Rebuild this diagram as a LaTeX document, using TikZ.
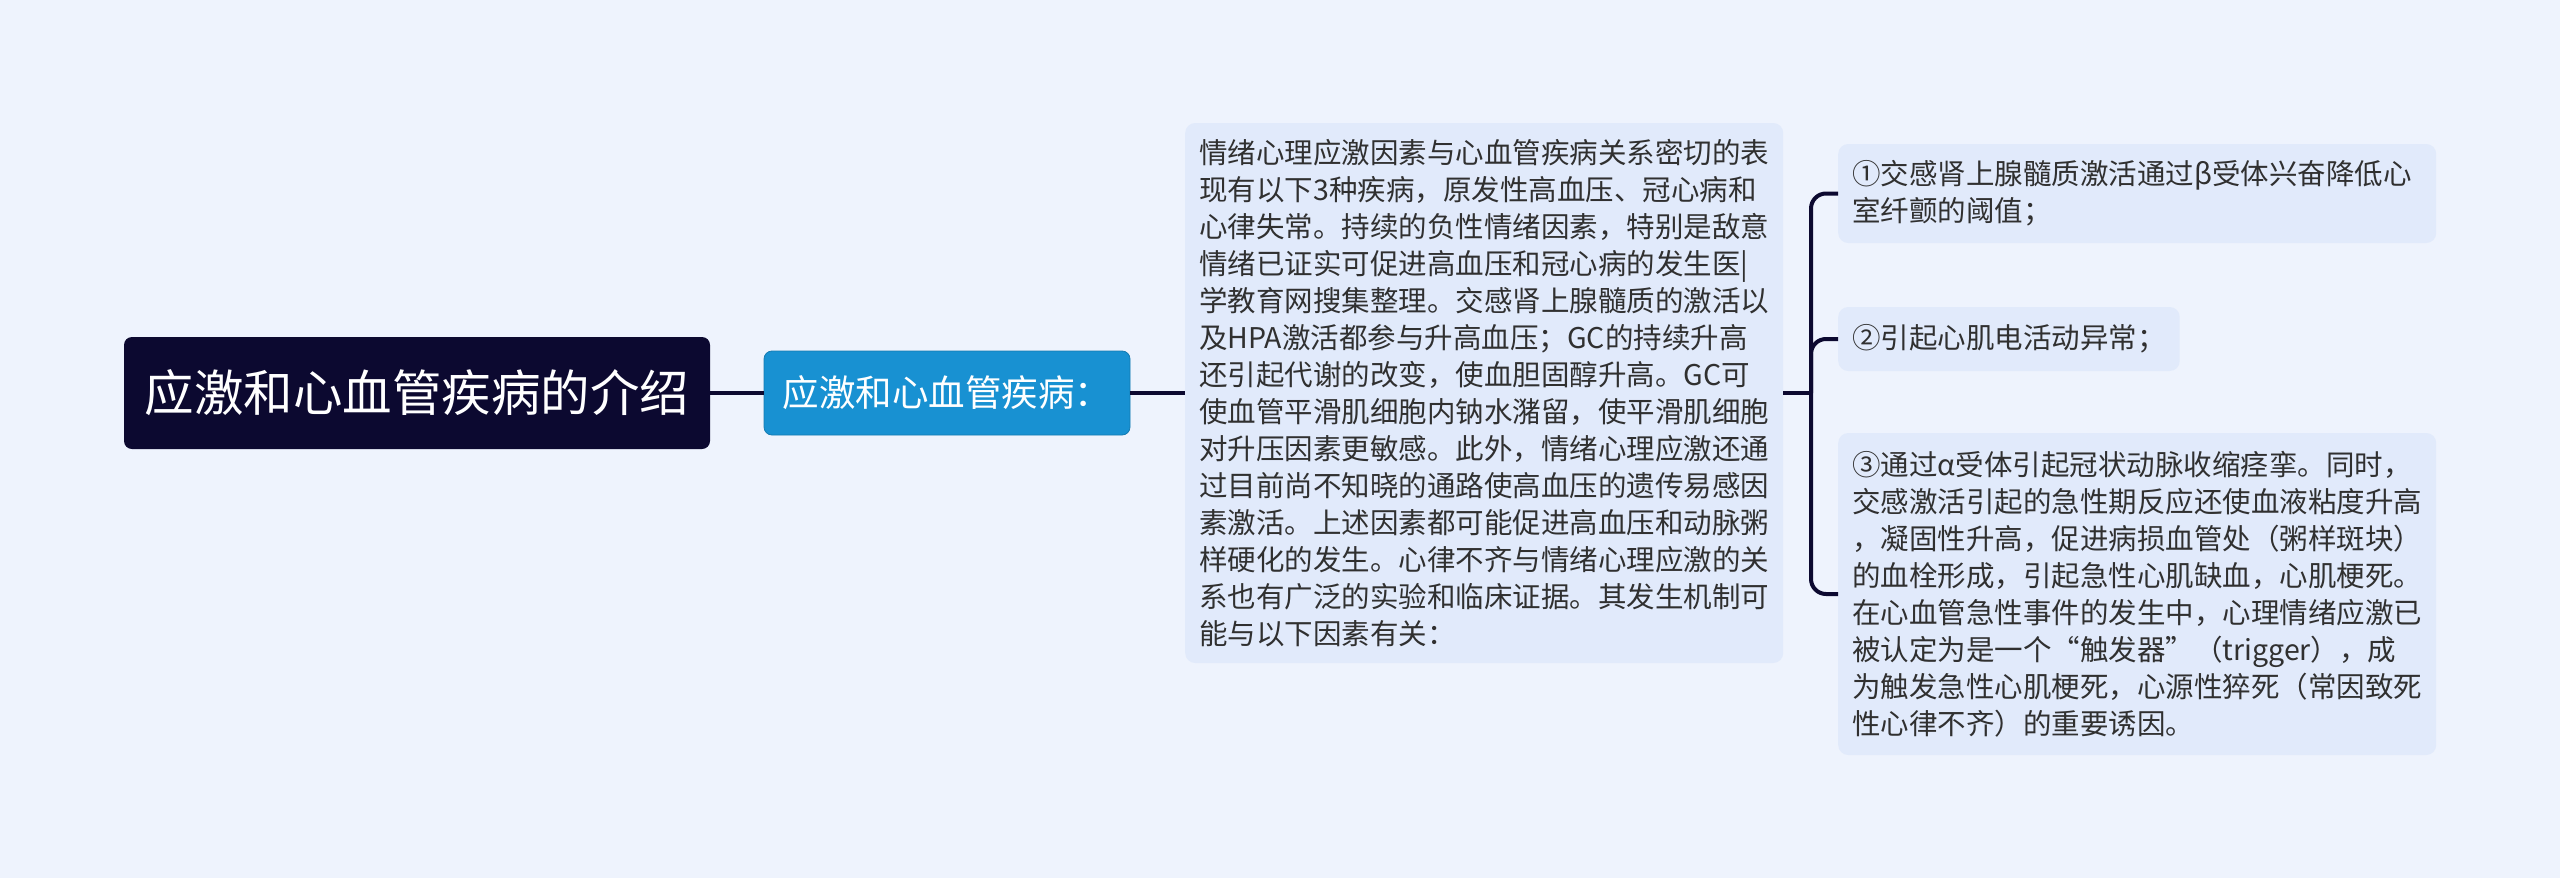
\documentclass[tikz,border=0pt]{standalone}
\usepackage{fontspec}
\newfontfamily\cjk{Noto Sans CJK SC}
\definecolor{bgc}{HTML}{EEF3FD}
\definecolor{boxc}{HTML}{E1EAFB}
\definecolor{rootc}{HTML}{0C0930}
\definecolor{subc}{HTML}{1891D2}
\definecolor{linec}{HTML}{0C0930}
\definecolor{txtc}{HTML}{303030}
\tikzset{
  rootbox/.style={fill=rootc, text=white, rounded corners=8pt, minimum width=586pt, minimum height=112pt, inner sep=0pt, font=\cjk\fontsize{49.5}{56}\selectfont},
  subbox/.style={fill=subc, draw=subc!85!black, line width=0.8pt, text=white, rounded corners=8pt, minimum width=366pt, minimum height=84pt, inner sep=0pt, font=\cjk\fontsize{36.5}{44}\selectfont},
  textbox/.style={fill=boxc, text=txtc, rounded corners=10pt, align=left, inner xsep=14pt, inner ysep=11pt, font=\cjk\fontsize{28.5}{37}\selectfont},
  conn/.style={draw=linec, line width=4pt},
}
\begin{document}
\begin{tikzpicture}[x=1pt,y=-1pt]
\useasboundingbox (0,0) rectangle (2560,878);
\fill[bgc] (0,0) rectangle (2560,878);

\node[rootbox] (root) at (417,393) {应激和心血管疾病的介绍};
\node[subbox] (sub) at (947,393) {应激和心血管疾病：};
\node[textbox, text width=570pt, minimum width=598pt, minimum height=540pt, anchor=west] (big) at (1185,393) {情绪心理应激因素与心血管疾病关系密切的表\\
现有以下3种疾病，原发性高血压、冠心病和\\
心律失常。持续的负性情绪因素，特别是敌意\\
情绪已证实可促进高血压和冠心病的发生医|\\
学教育网搜集整理。交感肾上腺髓质的激活以\\
及HPA激活都参与升高血压；GC的持续升高\\
还引起代谢的改变，使血胆固醇升高。GC可\\
使血管平滑肌细胞内钠水潴留，使平滑肌细胞\\
对升压因素更敏感。此外，情绪心理应激还通\\
过目前尚不知晓的通路使高血压的遗传易感因\\
素激活。上述因素都可能促进高血压和动脉粥\\
样硬化的发生。心律不齐与情绪心理应激的关\\
系也有广泛的实验和临床证据。其发生机制可\\
能与以下因素有关：};

\node[textbox, text width=570pt, minimum width=598pt, minimum height=99pt, anchor=west] (b1) at (1838,193.5) {①交感肾上腺髓质激活通过β受体兴奋降低心\\
室纤颤的阈值；};
\node[textbox, minimum height=64pt, anchor=west] (b2) at (1838,339) {②引起心肌电活动异常；};
\node[textbox, text width=570pt, minimum width=598pt, minimum height=322pt, anchor=west] (b3) at (1838,594) {③通过α受体引起冠状动脉收缩痉挛。同时，\\
交感激活引起的急性期反应还使血液粘度升高\\
，凝固性升高，促进病损血管处（粥样斑块）\\
的血栓形成，引起急性心肌缺血，心肌梗死。\\
在心血管急性事件的发生中，心理情绪应激已\\
被认定为是一个“触发器”（trigger），成\\
为触发急性心肌梗死，心源性猝死（常因致死\\
性心律不齐）的重要诱因。};

\coordinate (j) at (1811,393);
\draw[conn] (root.east) -- (sub.west);
\draw[conn] (sub.east) -- (big.west);
\draw[conn] (big.east) -- (j);
\draw[conn, rounded corners=15pt] (b1.west) -| (j) |- (b3.west);
\draw[conn, rounded corners=15pt] (j) |- (b2.west);
\end{tikzpicture}
\end{document}
